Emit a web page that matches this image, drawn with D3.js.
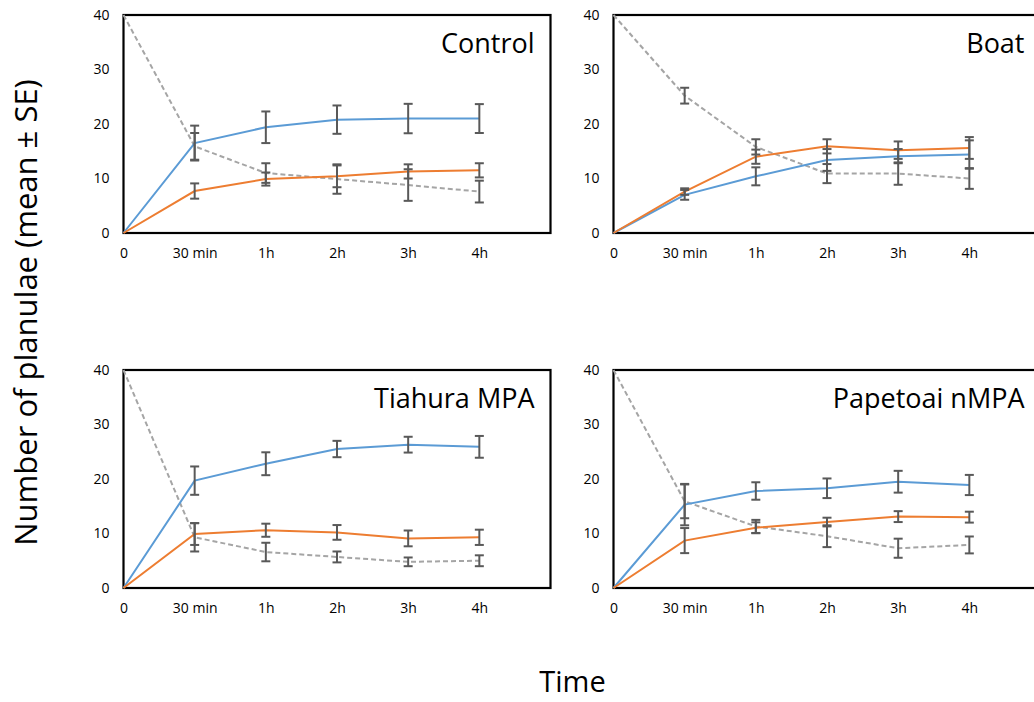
<!DOCTYPE html>
<html>
<head>
<meta charset="utf-8">
<script src="https://cdn.jsdelivr.net/npm/d3@7"></script>
<style>
  body { margin: 0; background: #fff; }
  svg { display: block; }
  text { font-family: "Open Sans", "Noto Sans", sans-serif; fill: #000; }
</style>
</head>
<body>
<svg id="chart" width="1034" height="702"></svg>
<script>
// ---- data ----
const timeLabels = ["0", "30 min", "1h", "2h", "3h", "4h"];
const panelNames = ["Control", "Boat", "Tiahura MPA", "Papetoai nMPA"];
const yTicks = [0, 10, 20, 30, 40];

// blue series (mean, SE)
const blueMean = [
  [0, 16.5, 19.4, 20.8, 21.0, 21.0],
  [0, 7.0, 10.4, 13.4, 14.1, 14.4],
  [0, 19.7, 22.8, 25.5, 26.3, 25.9],
  [0, 15.3, 17.8, 18.3, 19.5, 18.9]
];
const blueSE = [
  [0, 3.2, 2.9, 2.6, 2.7, 2.65],
  [0, 0.9, 1.65, 2.0, 1.3, 2.6],
  [0, 2.6, 2.1, 1.5, 1.45, 2.0],
  [0, 3.8, 1.6, 1.8, 2.0, 1.85]
];
// orange series (mean, SE)
const orangeMean = [
  [0, 7.7, 9.9, 10.4, 11.3, 11.5],
  [0, 7.6, 14.0, 15.9, 15.2, 15.6],
  [0, 9.9, 10.6, 10.2, 9.1, 9.3],
  [0, 8.7, 11.05, 12.1, 13.1, 13.0]
];
const orangeSE = [
  [0, 1.4, 1.2, 2.0, 1.3, 1.3],
  [0, 0.6, 1.3, 1.3, 1.6, 2.0],
  [0, 2.0, 1.2, 1.35, 1.45, 1.4],
  [0, 2.3, 1.0, 0.8, 1.0, 1.0]
];
// grey dashed series (mean, SE)
const greyMean = [
  [40, 15.9, 11.0, 9.9, 8.8, 7.6],
  [40, 25.2, 15.8, 10.9, 10.9, 10.0],
  [40, 9.3, 6.6, 5.7, 4.8, 5.0],
  [40, 15.9, 11.3, 9.5, 7.3, 7.9]
];
const greySE = [
  [0, 2.45, 1.8, 2.7, 2.9, 2.0],
  [0, 1.45, 1.4, 1.75, 2.05, 1.9],
  [0, 2.6, 1.7, 1.0, 0.8, 1.0],
  [0, 3.1, 1.2, 2.0, 1.75, 1.55]
];

// ---- layout ----
const svg = d3.select("#chart");
const panelW = 427, panelH = 218;
const origins = [
  {x: 123.5, y: 15},
  {x: 613.5, y: 15},
  {x: 123.5, y: 370},
  {x: 613.5, y: 370}
];
const colors = {blue: "#5B9BD5", orange: "#ED7D31", grey: "#A5A5A5", err: "#595959"};

panelNames.forEach((name, p) => {
  const o = origins[p];
  const g = svg.append("g").attr("transform", `translate(${o.x},${o.y})`);
  const x = d3.scaleLinear().domain([0, 6]).range([0, panelW]);
  const y = d3.scaleLinear().domain([0, 40]).range([panelH, 0]);

  // frame
  g.append("rect").attr("x", 0).attr("y", 0).attr("width", panelW).attr("height", panelH)
    .attr("fill", "none").attr("stroke", "#000").attr("stroke-width", 2.2);

  // y axis labels
  const yAxis = d3.axisLeft(y).tickValues(yTicks).tickSize(0).tickPadding(14);
  const ya = g.append("g").call(yAxis);
  ya.select(".domain").remove();
  ya.selectAll("text").style("font-size", "14px").attr("font-family", "Open Sans").attr("fill", "#000");

  // x axis labels
  const xAxis = d3.axisBottom(x).tickValues(d3.range(timeLabels.length))
    .tickFormat(i => timeLabels[i]).tickSize(0).tickPadding(15);
  const xa = g.append("g").attr("transform", `translate(0,${panelH})`).call(xAxis);
  xa.select(".domain").remove();
  xa.selectAll("text").style("font-size", "14px").attr("font-family", "Open Sans").attr("fill", "#000");

  const series = [
    {mean: greyMean[p], se: greySE[p], color: colors.grey, dash: "5,3"},
    {mean: blueMean[p], se: blueSE[p], color: colors.blue, dash: null},
    {mean: orangeMean[p], se: orangeSE[p], color: colors.orange, dash: null}
  ];

  const line = d3.line().x((d, i) => x(i)).y(d => y(d));
  series.forEach(s => {
    g.append("path").datum(s.mean).attr("d", line)
      .attr("fill", "none").attr("stroke", s.color).attr("stroke-width", 2)
      .attr("stroke-dasharray", s.dash);
  });

  // error bars
  series.forEach(s => {
    s.mean.forEach((m, i) => {
      const se = s.se[i];
      if (!se) return;
      const eg = g.append("g").attr("stroke", colors.err).attr("stroke-width", 2);
      eg.append("line").attr("x1", x(i)).attr("x2", x(i)).attr("y1", y(m + se)).attr("y2", y(m - se));
      eg.append("line").attr("x1", x(i) - 4.5).attr("x2", x(i) + 4.5).attr("y1", y(m + se)).attr("y2", y(m + se));
      eg.append("line").attr("x1", x(i) - 4.5).attr("x2", x(i) + 4.5).attr("y1", y(m - se)).attr("y2", y(m - se));
    });
  });

  // panel title
  g.append("text").attr("x", panelW - 16).attr("y", 38)
    .attr("text-anchor", "end").style("font-size", "27px").text(name);
});

// axis titles
svg.append("text").attr("transform", "translate(37,312.5) rotate(-90)")
  .attr("text-anchor", "middle").style("font-size", "31px")
  .text("Number of planulae (mean ± SE)");
svg.append("text").attr("x", 572.5).attr("y", 692)
  .attr("text-anchor", "middle").style("font-size", "29px").text("Time");
</script>
</body>
</html>
